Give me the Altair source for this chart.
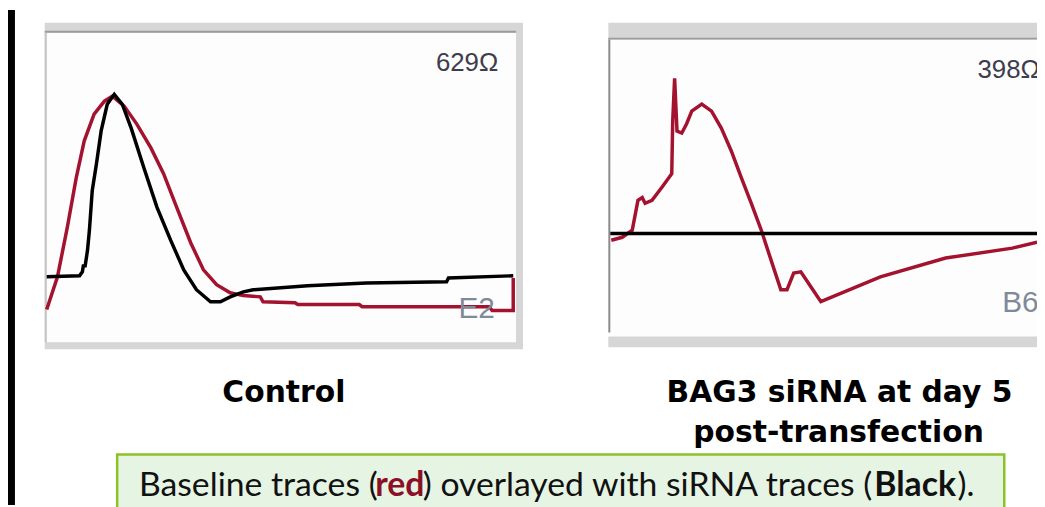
import altair as alt
import pandas as pd

# ---------------- data ----------------
# Control panel: baseline (red) and siRNA (black) traces, time in % of sweep, amplitude in a.u.
ctrl_base_t = [0, 2.3, 4.4, 6.3, 8.0, 10.1, 12.3, 14.0, 16.5, 19.2, 22.2, 24.9, 27.7, 30.7, 33.4,
               36.2, 39.1, 41.9, 45.5, 46.1, 52.9, 53.5, 66.6, 67.2, 94.3, 94.9, 99.4, 99.4]
ctrl_base_v = [10.6, 21.2, 37.2, 53.2, 65.1, 73.7, 77.9, 79.5, 76.3, 70.5, 62.8, 54.5, 43.6, 32.1, 23.4,
               18.6, 16.0, 15.1, 14.7, 13.1, 12.8, 12.2, 12.2, 11.5, 11.5, 10.3, 10.3, 20.8]
ctrl_sirna_t = [0, 7.0, 7.6, 7.8, 8.2, 8.7, 9.1, 9.7, 10.6, 11.6, 12.9, 14.4, 16.1, 18.0, 20.7, 23.5,
                26.4, 29.2, 31.9, 34.9, 37.0, 39.1, 41.9, 44.0, 55.6, 68.1, 85.2, 85.6, 99.4]
ctrl_sirna_v = [21.2, 21.5, 22.8, 24.7, 24.7, 29.8, 36.2, 49.0, 57.7, 68.3, 76.9, 80.1, 76.9, 69.2, 56.4, 43.6,
                33.0, 23.4, 17.0, 13.1, 13.1, 14.7, 16.3, 17.0, 18.3, 19.2, 19.6, 20.8, 21.5]

# BAG3 siRNA panel
bag3_base_t = [0.2, 2.5, 4.6, 5.8, 6.7, 7.3, 8.75, 10.8, 12.9, 13.1, 13.5, 14.0, 15.0, 16.0, 17.1, 19.2,
               21.25, 23.3, 25.4, 27.5, 29.6, 31.7, 33.75, 35.8, 37.1, 38.5, 40.0, 42.1, 44.2, 56.7,
               70.4, 84.4, 89.6]
bag3_base_v = [31.5, 32.5, 34.9, 45.1, 46.1, 44.1, 45.1, 49.5, 54.2, 72.2, 86.8, 68.8, 68.1, 71.2, 75.6, 78.0,
               75.6, 69.8, 62.0, 52.9, 44.1, 34.9, 24.7, 14.6, 14.6, 20.3, 20.7, 15.6, 10.5, 19.0,
               25.4, 28.8, 30.8]
bag3_sirna_t = [0, 20, 40, 60, 80, 89.6]
bag3_sirna_v = [33.8, 33.8, 33.8, 33.8, 33.8, 33.8]

# texts
ctrl_labels = ["629Ω", "E2"]
bag3_labels = ["398Ω", "B6"]
titles = ["Control", "BAG3 siRNA at day 5", "post-transfection"]
caption_parts = ["Baseline traces (", "red", ") overlayed with siRNA traces (", "Black", ")."]

RED = "#a3122f"
W, H = 1037, 499


def trace(t, v, color, xr, yr):
    df = pd.DataFrame({"t": t, "v": v, "i": range(len(t))})
    return alt.Chart(df).mark_line(color=color, strokeWidth=3.5, clip=True).encode(
        x=alt.X("t:Q", scale=alt.Scale(domain=[0, 100], range=xr), axis=None),
        y=alt.Y("v:Q", scale=alt.Scale(domain=[0, 100], range=yr), axis=None),
        order="i:Q",
    )


one = pd.DataFrame({"k": [0]})


def box(x, x2, y, y2, color, **kw):
    return alt.Chart(one).mark_rect(color=color, **kw).encode(
        x=alt.value(x), x2=alt.value(x2), y=alt.value(y), y2=alt.value(y2))


def label(txt, x, y, size, color, font, align="left", weight="normal"):
    return alt.Chart(pd.DataFrame({"s": [txt]})).mark_text(
        align=align, baseline="alphabetic", fontSize=size, font=font, color=color,
        fontWeight=weight).encode(text="s:N", x=alt.value(x), y=alt.value(y))


layers = [
    # left black bar
    box(0, 7, 0, H, "#000000"),
    # control panel frame
    box(37, 519, 13, 342, "#d6d6d6"),
    box(39, 512, 23, 335, "#fdfdfd"),
    box(37, 512, 21, 23, "#9c9c9c"),
    box(37, 39, 23, 335, "#c6c6c6"),
    # BAG3 panel frame
    box(605, 1040, 13, 30, "#d6d6d6"),
    box(605, 1040, 28, 30, "#9c9c9c"),
    box(607, 1040, 30, 329, "#fdfdfd"),
    box(605, 607, 30, 325, "#8a8a8a"),
    box(605, 1040, 329, 340, "#d6d6d6"),
    # traces
    trace(ctrl_base_t, ctrl_base_v, RED, [39, 512], [335, 23]),
    trace(ctrl_sirna_t, ctrl_sirna_v, "#000000", [39, 512], [335, 23]),
    trace(bag3_base_t, bag3_base_v, RED, [607, 1087], [325, 30]),
    trace(bag3_sirna_t, bag3_sirna_v, "#000000", [607, 1087], [325, 30]),
    # in-panel labels
    label(ctrl_labels[0], 494, 62, 26, "#3d3d4d", "Liberation Sans", align="right"),
    label(ctrl_labels[1], 454, 310, 30, "#7f8a99", "Liberation Sans"),
    label(bag3_labels[0], 977, 69, 26, "#3d3d4d", "Liberation Sans"),
    label(bag3_labels[1], 1002, 304, 30, "#7f8a99", "Liberation Sans"),
    # titles
    label(titles[0], 278, 395, 30, "#000000", "DejaVu Sans", align="center", weight="bold"),
    label(titles[1], 838, 395, 30, "#000000", "DejaVu Sans", align="center", weight="bold"),
    label(titles[2], 837, 435, 30, "#000000", "DejaVu Sans", align="center", weight="bold"),
    # caption box
    box(110, 1004, 448, 510, "#e6f4e4", stroke="#8bc226", strokeWidth=2.5),
    label(caption_parts[0], 132, 490, 34, "#111111", "Lato"),
    label(caption_parts[1], 370, 490, 34, "#8b1027", "Lato", weight="bold"),
    label(caption_parts[2], 418, 490, 34, "#111111", "Lato"),
    label(caption_parts[3], 873, 490, 34, "#111111", "Lato", weight="bold"),
    label(caption_parts[4], 957, 490, 34, "#111111", "Lato"),
]

chart = alt.layer(*layers).resolve_scale(x="independent", y="independent").properties(
    width=W, height=H, padding=0, autosize=alt.AutoSizeParams(type="none"),
    background="white",
).configure_view(stroke=None)

chart.save("out.html", embed_options={"renderer": "svg", "actions": False})
